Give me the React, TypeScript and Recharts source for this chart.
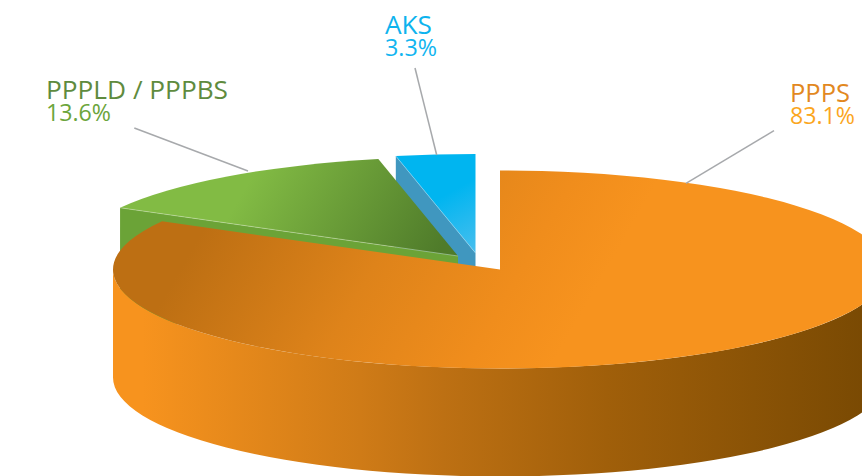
import React from 'react';
import { PieChart, Pie } from 'recharts';

const categories = ['AKS', 'PPPLD / PPPBS', 'PPPS'];
const shares = [3.3, 13.6, 83.1];

const data = categories.map((name, i) => ({ name, value: shares[i] }));

// tilt of the fake 3D pie
const SQUASH = 99 / 387;
const DEPTH = 108;

// per slice look, keyed by category
const looks: Record<string, any> = {
  AKS: { dx: -24.5, dy: -16.5, top: 'url(#blueTop)', wall: '#4097BF', edge: '#A9DDF2' },
  'PPPLD / PPPBS': { dx: -42, dy: -13.5, top: 'url(#greenTop)', wall: '#6BA337', edge: '#CFE3B8' },
  PPPS: { dx: 0, dy: 0, top: 'url(#orangeTop)' },
};

const labelLooks: Record<string, any> = {
  AKS: { x: 385, y: 33.5, w: 47, vw: 52, nameColor: '#0DB3EE', valueColor: '#12B5F0', line: [415, 68, 436.7, 155] },
  'PPPLD / PPPBS': { x: 46, y: 98.5, w: 182, vw: 65, nameColor: '#5F8B3E', valueColor: '#6CA53B', line: [134.3, 128, 248, 171] },
  PPPS: { x: 790, y: 101.5, w: 60, vw: 65, nameColor: '#E2881F', valueColor: '#FBA61E', line: [774, 130.7, 686, 183.3] },
};

const rad = (a: number) => (a * Math.PI) / 180;

function Slice(props: any) {
  const { cx, cy, outerRadius: r, startAngle, endAngle } = props;
  const name = props.name ?? props.payload?.name;
  const look = looks[name];
  const ry = r * SQUASH;
  const x0 = cx + look.dx;
  const y0 = cy + look.dy;
  const px = (a: number) => x0 + r * Math.cos(rad(a));
  const py = (a: number) => y0 - ry * Math.sin(rad(a));
  const large = Math.abs(endAngle - startAngle) > 180 ? 1 : 0;
  const topPath = `M${x0},${y0} L${px(startAngle)},${py(startAngle)} A${r},${ry} 0 ${large} 0 ${px(endAngle)},${py(endAngle)} Z`;

  if (name === 'PPPS') {
    const wall = `M${x0 + r},${y0} A${r},${ry} 0 0 1 ${x0 - r},${y0} L${x0 - r},${y0 + DEPTH} A${r},${ry} 0 0 0 ${x0 + r},${y0 + DEPTH} Z`;
    return (
      <g>
        <defs>
          <linearGradient id="orangeTop" gradientUnits="userSpaceOnUse" x1="177" y1="275" x2="497" y2="460">
            <stop offset="0" stopColor="#BD6F13" />
            <stop offset="0.45" stopColor="#DE831A" />
            <stop offset="0.8" stopColor="#F08D1C" />
            <stop offset="1" stopColor="#F7931E" />
          </linearGradient>
          <linearGradient id="orangeWall" gradientUnits="userSpaceOnUse" x1="113" y1="0" x2="862" y2="0">
            <stop offset="0" stopColor="#F7931E" />
            <stop offset="0.04" stopColor="#F7931E" />
            <stop offset="0.33" stopColor="#CF7B17" />
            <stop offset="0.44" stopColor="#BD7013" />
            <stop offset="0.66" stopColor="#A05F0A" />
            <stop offset="1" stopColor="#7A4A03" />
          </linearGradient>
        </defs>
        <path d={wall} fill="url(#orangeWall)" />
        <path d={topPath} fill={look.top} />
      </g>
    );
  }

  // cut face on the front side of the wedge, dropped straight down
  const cut = `M${x0},${y0} L${px(endAngle)},${py(endAngle)} L${px(endAngle)},${py(endAngle) + DEPTH} L${x0},${y0 + DEPTH} Z`;

  return (
    <g>
      <defs>
        <linearGradient id="greenTop" gradientUnits="userSpaceOnUse" x1="243" y1="192" x2="416" y2="292">
          <stop offset="0" stopColor="#82BB44" />
          <stop offset="1" stopColor="#4F7B2A" />
        </linearGradient>
        <linearGradient id="blueTop" gradientUnits="userSpaceOnUse" x1="445" y1="195" x2="475" y2="250">
          <stop offset="0" stopColor="#00B5F0" />
          <stop offset="1" stopColor="#45BEEE" />
        </linearGradient>
      </defs>
      <path d={cut} fill={look.wall} />
      <path d={topPath} fill={look.top} />
      <line x1={x0} y1={y0} x2={px(endAngle)} y2={py(endAngle)} stroke={look.edge} strokeWidth={0.5} />
    </g>
  );
}

function renderLabel(props: any) {
  const l = labelLooks[props.name];
  const [x1, y1, x2, y2] = l.line;
  return (
    <g fontFamily="'Open Sans', sans-serif">
      <line x1={x1} y1={y1} x2={x2} y2={y2} stroke="#A7A9AC" strokeWidth={1.5} />
      <text x={l.x} y={l.y} fontSize={26} fill={l.nameColor} textLength={l.w} lengthAdjust="spacingAndGlyphs">
        {props.name}
      </text>
      <text x={l.x} y={l.y + 22.3} fontSize={23} fill={l.valueColor} textLength={l.vw} lengthAdjust="spacingAndGlyphs">
        {props.value}%
      </text>
    </g>
  );
}

export default function App() {
  return (
    <div style={{ position: 'absolute', left: 0, top: 0, width: 862, height: 476, overflow: 'hidden', background: '#fff' }}>
      <PieChart width={862} height={476} margin={{ top: 0, right: 0, bottom: 0, left: 0 }}>
        <Pie
          data={data}
          dataKey="value"
          nameKey="name"
          cx={500}
          cy={269.5}
          innerRadius={0}
          outerRadius={387}
          startAngle={90}
          endAngle={450}
          stroke="none"
          shape={Slice}
          label={renderLabel}
          labelLine={false}
          isAnimationActive={false}
          rootTabIndex={-1}
        />
      </PieChart>
    </div>
  );
}
